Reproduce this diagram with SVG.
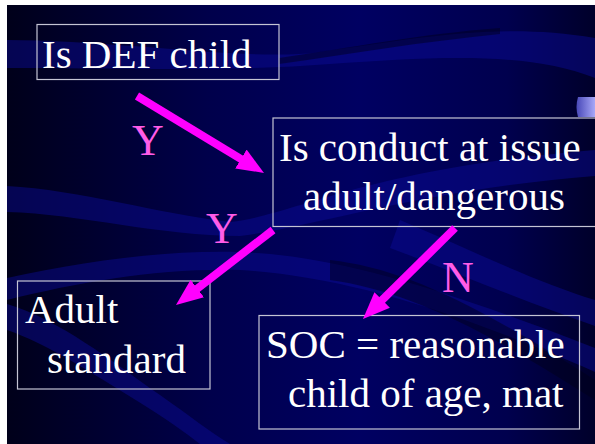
<svg xmlns="http://www.w3.org/2000/svg" width="595" height="444" viewBox="0 0 595 444">
<defs>
  <linearGradient id="bg" x1="0" y1="0" x2="1" y2="0">
    <stop offset="0" stop-color="#00001a"/>
    <stop offset="0.35" stop-color="#00004c"/>
    <stop offset="0.6" stop-color="#000062"/>
    <stop offset="0.85" stop-color="#00004e"/>
    <stop offset="1" stop-color="#00002a"/>
  </linearGradient>
  <linearGradient id="deco" x1="0" y1="0" x2="1" y2="0">
    <stop offset="0" stop-color="#4848b8"/>
    <stop offset="1" stop-color="#a8a8f8"/>
  </linearGradient>
  <marker id="ah" markerUnits="userSpaceOnUse" markerWidth="28" markerHeight="24" refX="7" refY="11" orient="auto">
    <path d="M0,0 L27,11 L0,22 Z" fill="#ff00ff"/>
  </marker>
  <style>
    .box { fill: none; stroke: #c4c4d4; stroke-width: 1.2; }
    .t { font-family: "Liberation Serif", "Times New Roman", serif; font-size: 41px; fill: #ffffff; }
    .lbl { font-family: "Liberation Serif", "Times New Roman", serif; font-size: 44px; fill: #ff5ce8; text-anchor: middle; }
    .band { fill: #0a0a9a; opacity: 0.45; }
    .dark { fill: #000018; opacity: 0.45; }
    .conn line { stroke: #ff00ff; stroke-width: 8; marker-end: url(#ah); }
  </style>
</defs>

<rect x="0" y="0" width="595" height="444" fill="#ffffff"/>
<rect x="7" y="5" width="588" height="439" fill="url(#bg)"/>

<g id="background">
  <path class="band" d="M7,40 C120,40 250,62 320,52 C420,38 500,22 595,38 L595,78 C530,52 440,56 330,64 C230,72 110,68 7,68 Z"/>
  <path class="dark" d="M279,58 C350,48 420,34 500,28 L500,34 C420,42 350,54 279,64 Z"/>
  <path class="band" d="M7,186 C80,190 160,214 230,222 C300,214 360,170 595,150 L595,176 C420,190 320,226 240,236 C160,236 80,214 7,212 Z"/>
  <path class="band" d="M7,278 C80,262 160,250 240,252 C330,256 420,280 595,348 L595,372 C430,300 330,276 240,270 C160,268 80,282 7,300 Z"/>
  <path class="band" d="M7,304 C60,320 110,360 160,395 C190,416 210,432 230,444 L200,444 C170,420 120,390 80,366 C50,348 25,336 7,330 Z"/>
  <path class="band" d="M400,220 C460,245 530,280 595,300 L595,326 C520,300 450,270 390,248 Z"/>
  <path class="dark" d="M330,260 C400,268 470,300 595,380 L595,400 C470,320 400,290 330,280 Z"/>
</g>

<path id="deco-tab" d="M578,97 Q575,107 578,117 L595,117 L595,97 Z" fill="url(#deco)"/>

<g id="node-def-child">
  <rect class="box" x="37" y="24.5" width="242" height="55"/>
  <text class="t" x="42" y="68">Is DEF child</text>
</g>

<g id="node-conduct">
  <rect class="box" x="273" y="118" width="330" height="108.5"/>
  <text class="t" x="279" y="161">Is conduct at issue</text>
  <text class="t" x="303" y="210">adult/dangerous</text>
</g>

<g id="node-adult-standard">
  <rect class="box" x="17.5" y="281" width="192.5" height="108"/>
  <text class="t" x="25" y="323">Adult</text>
  <text class="t" x="47" y="373">standard</text>
</g>

<g id="node-soc">
  <rect class="box" x="259" y="315.5" width="320.5" height="113.5"/>
  <text class="t" x="266" y="358">SOC = reasonable</text>
  <text class="t" x="288" y="407">child of age, mat</text>
</g>

<g id="connectors" class="conn">
  <line x1="137" y1="96" x2="246.9" y2="162.6"/>
  <line x1="273" y1="230" x2="191.8" y2="292.8"/>
  <line x1="455" y1="228" x2="377.2" y2="304.9"/>
</g>

<g id="labels">
  <text class="lbl" x="148" y="155">Y</text>
  <text class="lbl" x="222" y="243">Y</text>
  <text class="lbl" x="458" y="292">N</text>
</g>
</svg>
